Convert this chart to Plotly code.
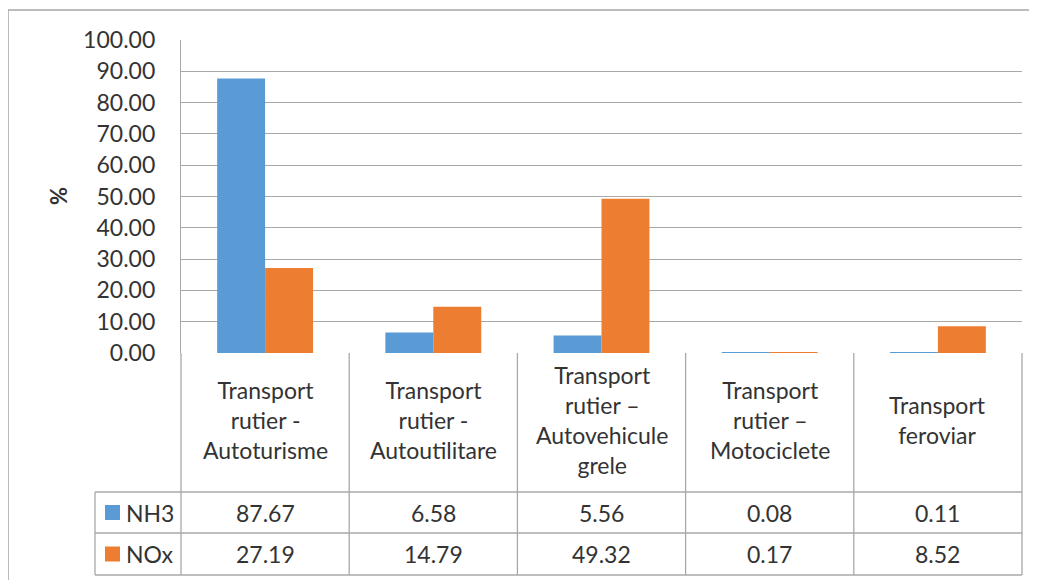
import plotly.graph_objects as go

categories = [
    "Transport<br>rutier -<br>Autoturisme",
    "Transport<br>rutier -<br>Autoutilitare",
    "Transport<br>rutier –<br>Autovehicule<br>grele",
    "Transport<br>rutier –<br>Motociclete",
    "Transport<br>feroviar",
]
series_names = ["NH3", "NOx"]
nh3 = [87.67, 6.58, 5.56, 0.08, 0.11]
nox = [27.19, 14.79, 49.32, 0.17, 8.52]
colors = ["#5B9BD5", "#ED7D31"]
y_ticks = [0, 10, 20, 30, 40, 50, 60, 70, 80, 90, 100]

O = 8  # page body margin offset
W, H = 1037 - O, 580 - O
L, R, T, B = 181 - O, 1022 - O, 40 - O, 353 - O  # plot area pixels (figure coords)
FONT = "Lato, Calibri, Carlito, sans-serif"
TXT = "#333333"
GRID = "#A8A8A8"
BORDER = "#A6A6A6"

def px_x(px):  # px in screenshot coordinates
    return (px - O - L) / (R - L)

def px_y(py):
    return (B - (py - O)) / (B - T)

fig = go.Figure()
idx = list(range(len(categories)))
for name, vals, col in zip(series_names, [nh3, nox], colors):
    fig.add_trace(go.Bar(x=idx, y=vals, name=name, marker_color=col,
                         marker_line_width=0, showlegend=False))

shapes = []
annotations = []

def line(x0, y0, x1, y1, color=GRID, w=1.3):
    shapes.append(dict(type="line", xref="paper", yref="paper",
                       x0=px_x(x0), y0=px_y(y0), x1=px_x(x1), y1=px_y(y1),
                       line=dict(color=color, width=w), layer="above"))

# outer chart border (left and top)
line(8, 10, 8, 580, BORDER, 1.5)
line(8, 10, 1037, 10, BORDER, 1.5)

# table geometry (screenshot pixel coords)
row_top, row1, row2, row_bot = 353, 492, 533, 575
col_left = 95
ncat = len(categories)
cw = (1022 - 181) / ncat
for k in range(ncat + 1):
    xk = 181 + cw * k
    line(xk, row_top, xk, row_bot)
line(col_left, row1, col_left, row_bot)
for yy in (row1, row2, row_bot):
    line(col_left, yy, 1022, yy)

# header texts
for i, cat in enumerate(categories):
    annotations.append(dict(x=i, y=px_y((row_top + row1) / 2 - 3), xref="x", yref="paper",
                            text=cat, showarrow=False, align="center",
                            xanchor="center", yanchor="middle",
                            font=dict(family=FONT, size=23, color=TXT)))
# value rows
for r, (name, vals, col) in enumerate(zip(series_names, [nh3, nox], colors)):
    yc = (row1 + row2) / 2 if r == 0 else (row2 + row_bot) / 2
    for i, v in enumerate(vals):
        annotations.append(dict(x=i, y=px_y(yc), xref="x", yref="paper",
                                text=f"{v:.2f}", showarrow=False,
                                xanchor="center", yanchor="middle",
                                font=dict(family=FONT, size=23, color=TXT)))
    # legend key
    shapes.append(dict(type="rect", xref="paper", yref="paper",
                       x0=px_x(105), x1=px_x(120), y0=px_y(yc - 7.5), y1=px_y(yc + 7.5),
                       fillcolor=col, line=dict(width=0)))
    annotations.append(dict(x=px_x(124), y=px_y(yc), xref="paper", yref="paper",
                            text=name, showarrow=False, xanchor="left", yanchor="middle",
                            font=dict(family=FONT, size=23, color=TXT)))

# y axis title
annotations.append(dict(x=px_x(58), y=px_y(196), xref="paper", yref="paper",
                        text="<b>%</b>", textangle=-90, showarrow=False,
                        xanchor="center", yanchor="middle",
                        font=dict(family=FONT, size=22, color=TXT)))

fig.update_layout(
    width=W, height=H,
    margin=dict(l=L, r=W - R, t=T, b=H - B, pad=0),
    paper_bgcolor="white", plot_bgcolor="white",
    barmode="group", bargap=0.43, bargroupgap=0,
    shapes=shapes, annotations=annotations,
    xaxis=dict(range=[-0.5, ncat - 0.5], showticklabels=False, showgrid=False,
               zeroline=False, showline=False, ticks=""),
    yaxis=dict(range=[0, 100], tickvals=y_ticks, tickformat=".2f",
               showgrid=True, gridcolor=GRID, gridwidth=1.3,
               showline=True, linecolor=GRID, linewidth=1.3,
               zeroline=False, ticks="", ticklabelstandoff=20,
               tickfont=dict(family=FONT, size=23, color=TXT)),
    font=dict(family=FONT, color=TXT),
)

fig.write_html("out.html")
